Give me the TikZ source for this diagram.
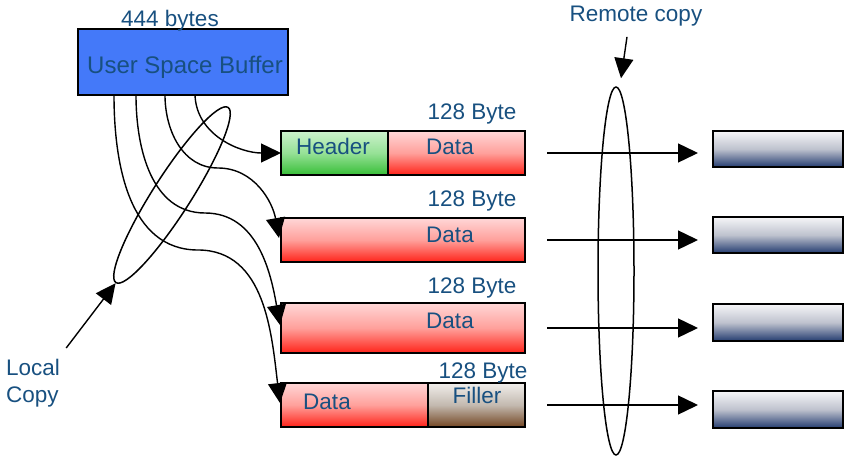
\documentclass[tikz,border=0pt]{standalone}
\usepackage{fontspec}
\setmainfont{Liberation Sans}
\usepackage{tikz}
\usetikzlibrary{positioning}
\usetikzlibrary{arrows.meta,shapes.geometric}
\usepackage{xcolor}
\definecolor{txtblue}{RGB}{24,80,128}
\definecolor{bufblue}{RGB}{68,121,249}

\begin{document}
\begin{tikzpicture}[
    x=1pt, y=1pt,
    txt/.style={text=txtblue, font=\fontsize{22.5}{27}\selectfont, inner sep=0pt},
    cell/.style={rectangle, draw=black, line width=1.6pt, inner sep=0pt, outer sep=0pt, minimum height=44pt},
    bufcell/.style={cell, fill=bufblue},
    headcell/.style={cell, top color={rgb,255:red,205;green,242;blue,205}, bottom color={rgb,255:red,55;green,190;blue,55}, middle color={rgb,255:red,150;green,225;blue,150}},
    datcell/.style={cell, top color={rgb,255:red,255;green,215;blue,215}, bottom color={rgb,255:red,255;green,35;blue,25}, middle color={rgb,255:red,255;green,160;blue,155}},
    fillcell/.style={cell, top color={rgb,255:red,240;green,238;blue,235}, bottom color={rgb,255:red,115;green,70;blue,35}, middle color={rgb,255:red,195;green,185;blue,175}},
    tgtcell/.style={cell, minimum width=130pt, top color={rgb,255:red,246;green,246;blue,248}, bottom color={rgb,255:red,36;green,60;blue,112}, middle color={rgb,255:red,190;green,194;blue,206}},
    link/.style={-{Triangle[length=20pt,width=19pt]}, line width=1.4pt},
    ring/.style={ellipse, draw, line width=1.5pt, inner sep=0pt}
    ]
\useasboundingbox (0,0) rectangle (846,-457);

%source buffer
\node[bufcell, anchor=north west, minimum width=210pt, minimum height=66pt] (buf) at (78,-29) {};
\node[txt, anchor=base] (bytes) at (170,-27) {444 bytes};
\node[txt, anchor=base, font=\fontsize{24}{28}\selectfont] (buftxt) at (185,-74) {User Space Buffer};

%packets
\node[headcell, anchor=north west, minimum width=107pt] (head1) at (281,-131) {};
\node[datcell, right=0pt of head1, minimum width=137pt] (data1) {};
\node[datcell, anchor=north west, minimum width=244pt] (data2) at (281,-218) {};
\node[datcell, anchor=north west, minimum width=244pt, minimum height=50pt] (data3) at (281,-303) {};
\node[datcell, anchor=north west, minimum width=147pt] (data4) at (281,-383) {};
\node[fillcell, right=0pt of data4, minimum width=97pt] (fill4) {};

\node[txt, anchor=base] (size1) at (472,-120) {128 Byte};
\node[txt, anchor=base] (size2) at (472,-207) {128 Byte};
\node[txt, anchor=base] (size3) at (472,-293) {128 Byte};
\node[txt, anchor=base] (size4) at (483,-378) {128 Byte};
\node[txt, anchor=base] (headtxt) at (333,-155) {Header};
\node[txt, anchor=base] (dtxt1) at (450,-155) {Data};
\node[txt, anchor=base] (dtxt2) at (450,-243) {Data};
\node[txt, anchor=base] (dtxt3) at (450,-328) {Data};
\node[txt, anchor=base] (dtxt4) at (327,-409) {Data};
\node[txt, anchor=base] (filltxt) at (477,-403) {Filler};

%remote side
\foreach \r/\y/\h in {1/131/36,2/217/36,3/304/37,4/391/37}
    \node[tgtcell, anchor=north west, minimum height=\h pt] (tgt\r) at (713,-\y) {};

\foreach \s/\r in {data1/1,data2/2,data3/3,fill4/4}
    \draw[link] ([xshift=22pt]\s.east) -- ([xshift=-15pt]tgt\r.west |- \s.east);

\node[ring, minimum width=36pt, minimum height=368pt] (remote) at (616,-271) {};
\node[txt, anchor=base] (remotetxt) at (636,-22) {Remote copy};
\draw[link] ([xshift=-9pt,yshift=-10pt]remotetxt.south) -- ([xshift=5pt,yshift=8pt]remote.north);

%local copy
\coordinate (bend2) at (218,-168);
\coordinate (bend3) at (205,-213);
\coordinate (bend4) at (198,-250);
\draw[link] ([xshift=117pt]buf.south west) to[out=-88,in=180] (head1.west);
\draw[link] ([xshift=87pt]buf.south west) to[out=-90,in=180] (bend2) to[out=0,in=100] ([xshift=-2pt,yshift=-20pt]data2.north west);
\draw[link] ([xshift=58pt]buf.south west) to[out=-90,in=180] (bend3) to[out=0,in=100] ([xshift=-1pt,yshift=-22pt]data3.north west);
\draw[link] ([xshift=36pt]buf.south west) to[out=-90,in=180] (bend4) to[out=0,in=97] ([xshift=-1pt,yshift=-20pt]data4.north west);

\node[ring, rotate=57.4, minimum width=208pt, minimum height=38pt] (local) at (172,-195) {};
\node[txt, anchor=north west, align=left] (localtxt) at (6,-359) {Local\\Copy};
\draw[link] ([xshift=6pt,yshift=11pt]localtxt.north east) -- (local.west);
\end{tikzpicture}
\end{document}
